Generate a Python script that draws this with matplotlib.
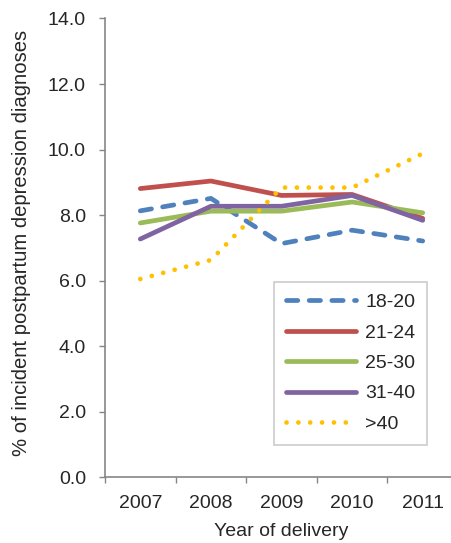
import matplotlib.pyplot as plt
import numpy as np

plt.rcParams["font.family"] = ["Liberation Sans", "DejaVu Sans"]

years = ["2007", "2008", "2009", "2010", "2011"]
age_groups = ["18-20", "21-24", "25-30", "31-40", ">40"]
pct_18_20 = [8.13, 8.51, 7.13, 7.54, 7.21]
pct_21_24 = [8.81, 9.04, 8.60, 8.63, 7.90]
pct_25_30 = [7.76, 8.12, 8.12, 8.40, 8.07]
pct_31_40 = [7.27, 8.27, 8.27, 8.60, 7.84]
pct_over_40 = [6.05, 6.63, 8.84, 8.84, 9.88]

series = [pct_18_20, pct_21_24, pct_25_30, pct_31_40, pct_over_40]
colors = ["#4F81BD", "#C0504D", "#9BBB59", "#8064A2", "#FFC000"]
text_col = "#262626"
axis_col = "#868686"

fig = plt.figure(figsize=(4.52, 5.43), dpi=100)
ax = fig.add_axes([0.2323, 0.121, 0.781, 0.845])

x = np.arange(len(years))
for vals, label, col in zip(series, age_groups, colors):
    if label == "18-20":
        ax.plot(x, vals, color=col, lw=3.4, label=label, linestyle=(0, (2.4, 2.4)),
                dash_capstyle="round", solid_joinstyle="round")
    elif label == ">40":
        ax.plot(x, vals, color=col, lw=3.4, label=label, linestyle=(0, (0.01, 2.5)),
                dash_capstyle="round")
    else:
        ax.plot(x, vals, color=col, lw=3.4, label=label, solid_capstyle="round",
                solid_joinstyle="round")

ax.set_xlim(-0.5, 4.5)
ax.set_ylim(0, 14)
ax.set_yticks(np.arange(0, 14.1, 2))
ax.set_yticklabels([f"{v:.1f}" for v in np.arange(0, 14.1, 2)])
ax.set_xticks(x)
ax.set_xticklabels(years)
ax.set_xticks(np.arange(-0.5, 4.6, 1), minor=True)
ax.tick_params(axis="x", which="major", length=0, pad=13, labelsize=14, labelcolor=text_col)
ax.tick_params(axis="x", which="minor", length=4.3, color=axis_col, width=1)
ax.tick_params(axis="y", length=4.3, color=axis_col, width=1, labelsize=14,
               labelcolor=text_col, pad=9.4)

for side in ["top", "right"]:
    ax.spines[side].set_visible(False)
for side in ["left", "bottom"]:
    ax.spines[side].set_color(axis_col)
    ax.spines[side].set_linewidth(1.2)

ax.set_xlabel("Year of delivery", fontsize=14, color=text_col, labelpad=8)
ax.set_ylabel("% of incident postpartum depression diagnoses", fontsize=14.6,
              color=text_col, labelpad=5)
ax.yaxis.set_label_coords(-0.21, 0.51)

leg = ax.legend(loc="upper left", bbox_to_anchor=(0.479, 0.426), fontsize=14,
                frameon=True, fancybox=False, handlelength=3.6, labelspacing=0.66,
                borderpad=0.6, handletextpad=0.5, labelcolor=text_col,
                borderaxespad=0)
leg.get_frame().set_edgecolor("#BFBFBF")
leg.get_frame().set_linewidth(1.2)

fig.savefig("out.png", dpi=100)
